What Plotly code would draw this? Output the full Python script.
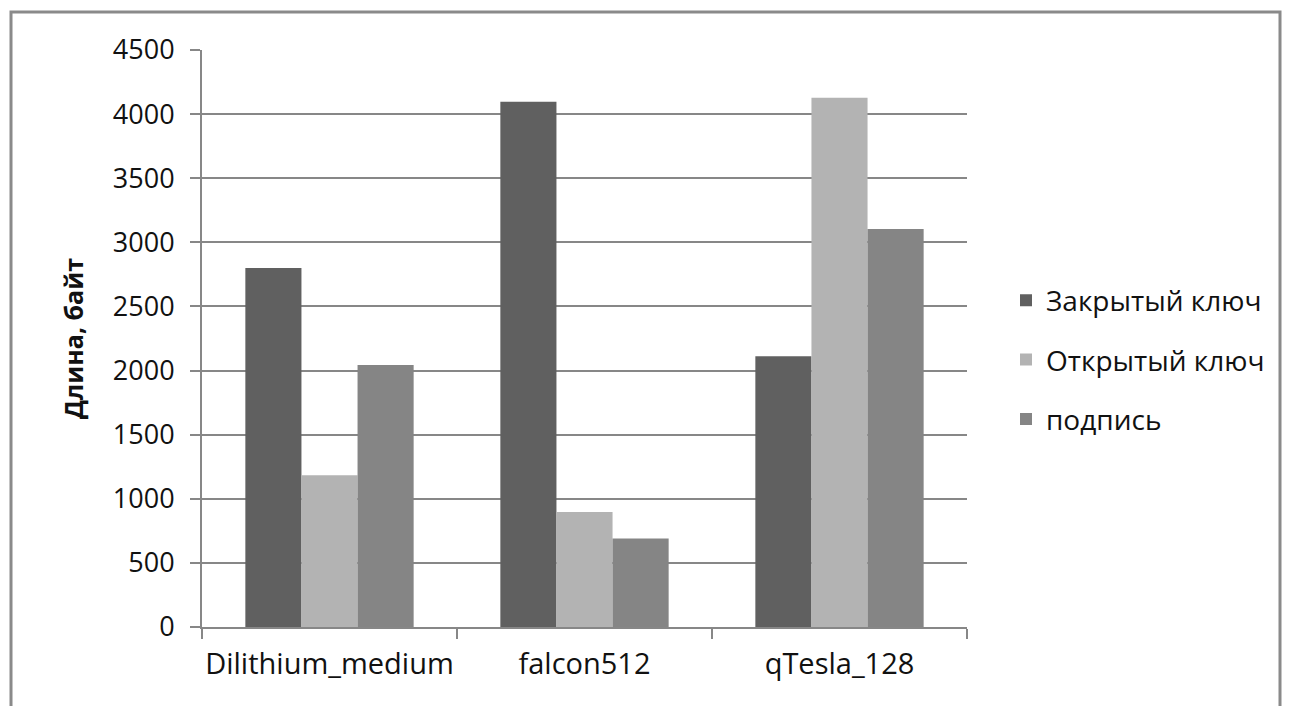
import plotly.graph_objects as go

# Key and signature sizes (bytes) for each scheme
schemes = ["Dilithium_medium", "falcon512", "qTesla_128"]
private_key = [2800, 4097, 2112]
public_key = [1184, 897, 4128]
signature = [2044, 690, 3104]

series_names = ["Закрытый ключ", "Открытый ключ", "подпись"]
series_colors = ["#606060", "#b3b3b3", "#858585"]

y_ticks = [0, 500, 1000, 1500, 2000, 2500, 3000, 3500, 4000, 4500]

W, H = 1289, 706
L, R, T, B = 202, 322, 50, 79
pw, ph = W - L - R, H - T - B


def px_x(x):
    return (x - L) / pw


def px_y(y):
    return (T + ph - y) / ph


fig = go.Figure()
for i, (name, vals, col) in enumerate(zip(series_names, [private_key, public_key, signature], series_colors)):
    fig.add_trace(go.Bar(
        x=schemes, y=vals, name=name, marker_color=col,
        marker_line_width=0, legendgroup=f"g{i}",
    ))

font_family = "Open Sans, Liberation Sans, sans-serif"
text_color = "#111111"

fig.update_layout(
    width=W, height=H,
    margin=dict(l=L, r=R, t=T, b=B, autoexpand=False),
    paper_bgcolor="white", plot_bgcolor="white",
    barmode="group", bargap=0.34, bargroupgap=0,
    font=dict(family=font_family, color=text_color, size=26),
    showlegend=True,
    legend=dict(
        x=px_x(1006), xanchor="left", y=px_y(360), yanchor="middle",
        font=dict(size=28, family=font_family, color=text_color),
        tracegroupgap=20, itemsizing="constant", itemwidth=30,
        bgcolor="rgba(0,0,0,0)",
    ),
    xaxis=dict(
        showline=True, linecolor="#878787", linewidth=2,
        ticks="outside", tickson="boundaries", ticklen=10, tickwidth=2, tickcolor="#878787",
        ticklabelstandoff=10, tickangle=0,
        tickfont=dict(size=29, family=font_family, color=text_color),
        showgrid=False,
    ),
    yaxis=dict(
        range=[0, 4500], tickvals=y_ticks,
        showline=True, linecolor="#878787", linewidth=2,
        ticks="outside", ticklen=10, tickwidth=2, tickcolor="#878787",
        ticklabelstandoff=10,
        showgrid=True, gridcolor="#878787", gridwidth=2,
        zeroline=False,
        tickfont=dict(size=27, family=font_family, color=text_color),
        title=dict(text="<b>Длина, байт</b>", font=dict(size=25, family=font_family, color=text_color),
                   standoff=22),
    ),
)

# Outer chart frame (its bottom edge runs past the page)
fig.add_shape(
    type="rect", xref="paper", yref="paper",
    x0=px_x(11), x1=px_x(1280), y0=px_y(740), y1=px_y(12),
    line=dict(color="#8a8a8a", width=3), fillcolor="rgba(0,0,0,0)", layer="below",
)

fig.write_html("out.html")
